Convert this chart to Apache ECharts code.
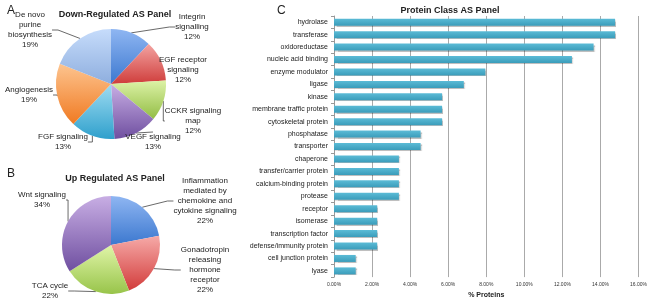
<!DOCTYPE html>
<html>
<head>
<meta charset="utf-8">
<script src="https://cdn.jsdelivr.net/npm/echarts@6/dist/echarts.min.js"></script>
<style>
html,body{margin:0;padding:0;background:#fff;}
#main{width:650px;height:304px;}
</style>
</head>
<body>
<div id="main"></div>
<script>
// panel A - down regulated
var downNames = ['Integrin\nsignalling', 'EGF receptor\nsignaling', 'CCKR signaling\nmap', 'VEGF signaling', 'FGF signaling', 'Angiogenesis', 'De novo\npurine\nbiosynthesis'];
var downValues = [12, 12, 12, 13, 13, 19, 19];
// panel B - up regulated
var upNames = ['Inflammation\nmediated by\nchemokine and\ncytokine signaling', 'Gonadotropin\nreleasing\nhormone\nreceptor', 'TCA cycle', 'Wnt signaling'];
var upValues = [22, 22, 22, 34];
// panel C - protein class
var classNames = ['hydrolase', 'transferase', 'oxidoreductase', 'nucleic acid binding', 'enzyme modulator', 'ligase', 'kinase',
	'membrane traffic protein', 'cytoskeletal protein', 'phosphatase', 'transporter', 'chaperone', 'transfer/carrier protein',
	'calcium-binding protein', 'protease', 'receptor', 'isomerase', 'transcription factor', 'defense/immunity protein',
	'cell junction protein', 'lyase'];
var classValues = [14.77, 14.77, 13.64, 12.50, 7.95, 6.82, 5.68, 5.68, 5.68, 4.55, 4.55, 3.41, 3.41, 3.41, 3.41, 2.27, 2.27, 2.27, 2.27, 1.14, 1.14];

// label spots for the pies
var downLabelPos = [[192, 27], [183, 70], [193, 121], [153, 142], [63, 142], [29, 95], [30, 30]];
var upLabelPos = [[205, 201], [205, 270], [50, 291], [42, 200]];

function grad(a, b){
	return new echarts.graphic.LinearGradient(0, 0, 0, 1, [{offset: 0, color: a}, {offset: 1, color: b}]);
}
var downColors = [grad('#8fb6f2', '#3c78cf'), grad('#f3a3a1', '#cf3d3b'), grad('#dcf2a6', '#93bd45'),
	grad('#c8aee4', '#6f4fa0'), grad('#9fdcf2', '#2fa0cc'), grad('#fdc48f', '#f07a22'), grad('#c6dcfb', '#8eaede')];
var upColors = [grad('#8fb6f2', '#3c78cf'), grad('#f6aaa8', '#d23c3b'), grad('#e0f5a8', '#98c44a'), grad('#c8aee4', '#6f4fa0')];

var labelFont = {fontSize: 8, color: '#222', lineHeight: 10, overflow: 'none', fontFamily: 'Liberation Sans Narrow, Liberation Sans, sans-serif'};

function pieData(names, values, colors){
	var arr = [];
	names.forEach(function(n, i){
		arr.push({name: n, value: values[i], itemStyle: {color: colors[i]}});
	});
	return arr;
}

var myChart = echarts.init(document.getElementById('main'));
var option = {
	animation: false,
	title: [
		{text: 'A', left: 2, top: 0, textStyle: {fontSize: 12, fontWeight: 'normal', color: '#222'}},
		{text: 'Down-Regulated AS Panel', left: 110, top: 5, textAlign: 'center', textStyle: {fontSize: 9, fontWeight: 'bold', color: '#222'}},
		{text: 'B', left: 2, top: 163, textStyle: {fontSize: 12, fontWeight: 'normal', color: '#222'}},
		{text: 'Up Regulated AS Panel', left: 110, top: 169, textAlign: 'center', textStyle: {fontSize: 9, fontWeight: 'bold', color: '#222'}},
		{text: 'C', left: 272, top: 0, textStyle: {fontSize: 12, fontWeight: 'normal', color: '#222'}},
		{text: 'Protein Class AS Panel', left: 445, top: 1, textAlign: 'center', textStyle: {fontSize: 9, fontWeight: 'bold', color: '#222'}}
	],
	grid: {left: 334, right: 11, top: 16, bottom: 23},
	xAxis: {
		type: 'value', min: 0, max: 16, interval: 2,
		name: '% Proteins', nameLocation: 'middle', nameGap: 14,
		nameTextStyle: {fontSize: 7, fontWeight: 'bold', color: '#222'},
		axisLine: {show: false}, axisTick: {show: false},
		axisLabel: {fontSize: 5, color: '#333', margin: 5, formatter: function(v){ return v.toFixed(2) + '%'; }},
		splitLine: {lineStyle: {color: '#aaa', width: 1}}
	},
	yAxis: {
		type: 'category', inverse: true, data: classNames,
		axisLine: {lineStyle: {color: '#999'}},
		axisTick: {show: true, length: 3, lineStyle: {color: '#999'}},
		axisLabel: {fontSize: 7, color: '#222', margin: 6, fontFamily: 'Liberation Sans Narrow, Liberation Sans, sans-serif'}
	},
	series: [
		{
			type: 'pie', center: [111, 84], radius: 55, startAngle: 90,
			data: pieData(downNames, downValues, downColors),
			label: Object.assign({formatter: '{b}\n{c}%', align: 'center', edgeDistance: 0, bleedMargin: 0}, labelFont),
			labelLine: {show: true, length: 6, length2: 6, lineStyle: {color: '#444', width: 0.8}},
			labelLayout: function(p){
				var pos = downLabelPos[p.dataIndex];
				return {x: pos[0], y: pos[1], align: 'center', verticalAlign: 'middle'};
			},
			emphasis: {disabled: true}
		},
		{
			type: 'pie', center: [111, 245], radius: 49, startAngle: 90,
			data: pieData(upNames, upValues, upColors),
			label: Object.assign({formatter: '{b}\n{c}%', align: 'center', edgeDistance: 0, bleedMargin: 0}, labelFont),
			labelLine: {show: true, length: 6, length2: 6, lineStyle: {color: '#444', width: 0.8}},
			labelLayout: function(p){
				var pos = upLabelPos[p.dataIndex];
				return {x: pos[0], y: pos[1], align: 'center', verticalAlign: 'middle'};
			},
			emphasis: {disabled: true}
		},
		{
			type: 'bar', data: classValues, barWidth: 7,
			itemStyle: {color: grad('#5bbbd6', '#3a9cba'), shadowColor: 'rgba(0,0,0,0.25)', shadowOffsetX: 1, shadowOffsetY: 1, shadowBlur: 1}
		}
	]
};
myChart.setOption(option);
</script>
</body>
</html>
